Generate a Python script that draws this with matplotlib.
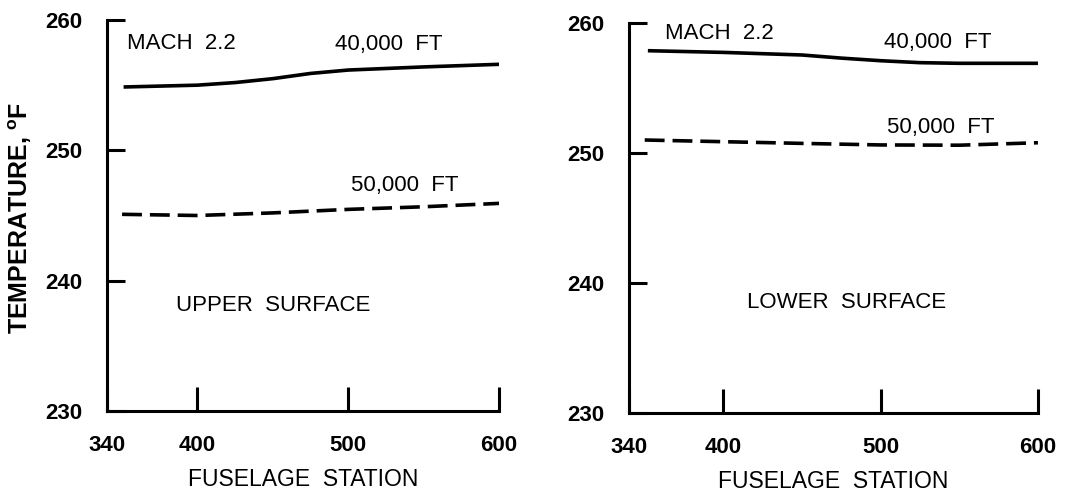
import matplotlib.pyplot as plt

plt.rcParams['font.family'] = ['Liberation Sans', 'DejaVu Sans']
plt.rcParams['mathtext.fontset'] = 'custom'
plt.rcParams['mathtext.rm'] = 'Liberation Sans'
plt.rcParams['mathtext.bf'] = 'Liberation Sans:bold'

# fuselage station vs temperature, Mach 2.2
upper_x = [351, 400, 425, 450, 475, 500, 550, 600]
upper_40k = [254.86, 255.0, 255.2, 255.5, 255.9, 256.16, 256.4, 256.6]
upper_50k_x = [350, 400, 450, 500, 550, 600]
upper_50k = [245.09, 245.0, 245.2, 245.47, 245.67, 245.93]

lower_x = [352, 400, 450, 475, 500, 525, 550, 600]
lower_40k = [257.87, 257.74, 257.54, 257.3, 257.1, 256.95, 256.9, 256.9]
lower_50k_x = [350, 400, 450, 500, 550, 600]
lower_50k = [251.0, 250.87, 250.74, 250.62, 250.6, 250.79]

xticks = [340, 400, 500, 600]
yticks = [230, 240, 250, 260]

fig = plt.figure(figsize=(10.83, 4.95), dpi=100)
ax1 = fig.add_axes([0.0988, 0.1697, 0.3620, 0.7899])
ax2 = fig.add_axes([0.5808, 0.1657, 0.3776, 0.7878])

lw = 2.6
txt = 16


def setup(ax):
    ax.set_xlim(340, 600)
    ax.set_ylim(230, 260)
    ax.spines['top'].set_visible(False)
    ax.spines['right'].set_visible(False)
    ax.spines['left'].set_linewidth(2.2)
    ax.spines['bottom'].set_linewidth(2.2)
    ax.set_xticks(xticks)
    ax.set_yticks(yticks)
    ax.tick_params(axis='y', direction='in', length=13, width=2.2, pad=18, labelsize=16)
    ax.tick_params(axis='x', direction='in', length=17, width=2.2, pad=17, labelsize=16)
    for lab in ax.get_xticklabels() + ax.get_yticklabels():
        lab.set_fontweight('bold')
    ax.set_xlabel('FUSELAGE  STATION', fontsize=16.5, labelpad=9)


setup(ax1)
ax1.plot(upper_x, upper_40k, color='black', lw=lw, solid_capstyle='butt')
ax1.plot(upper_50k_x, upper_50k, color='black', lw=lw, dashes=(5.5, 2.2))
ax1.text(353, 258.2, 'MACH  2.2', fontsize=txt, va='center')
ax1.text(491, 258.1, '40,000  FT', fontsize=txt, va='center')
ax1.text(502, 247.3, '50,000  FT', fontsize=txt, va='center')
ax1.text(386, 238.1, 'UPPER  SURFACE', fontsize=txt, va='center')
ax1.set_ylabel(r'TEMPERATURE, $^{\mathbf{o}}$F', fontsize=18, fontweight='bold')
ax1.yaxis.set_label_coords(-0.185, 0.495)

setup(ax2)
ax2.plot(lower_x, lower_40k, color='black', lw=lw, solid_capstyle='butt')
ax2.plot(lower_50k_x, lower_50k, color='black', lw=lw, dashes=(5.5, 2.2))
ax2.text(363, 259.2, 'MACH  2.2', fontsize=txt, va='center')
ax2.text(502, 258.5, '40,000  FT', fontsize=txt, va='center')
ax2.text(504, 252.0, '50,000  FT', fontsize=txt, va='center')
ax2.text(415, 238.5, 'LOWER  SURFACE', fontsize=txt, va='center')

fig.savefig('out.png', dpi=100)
